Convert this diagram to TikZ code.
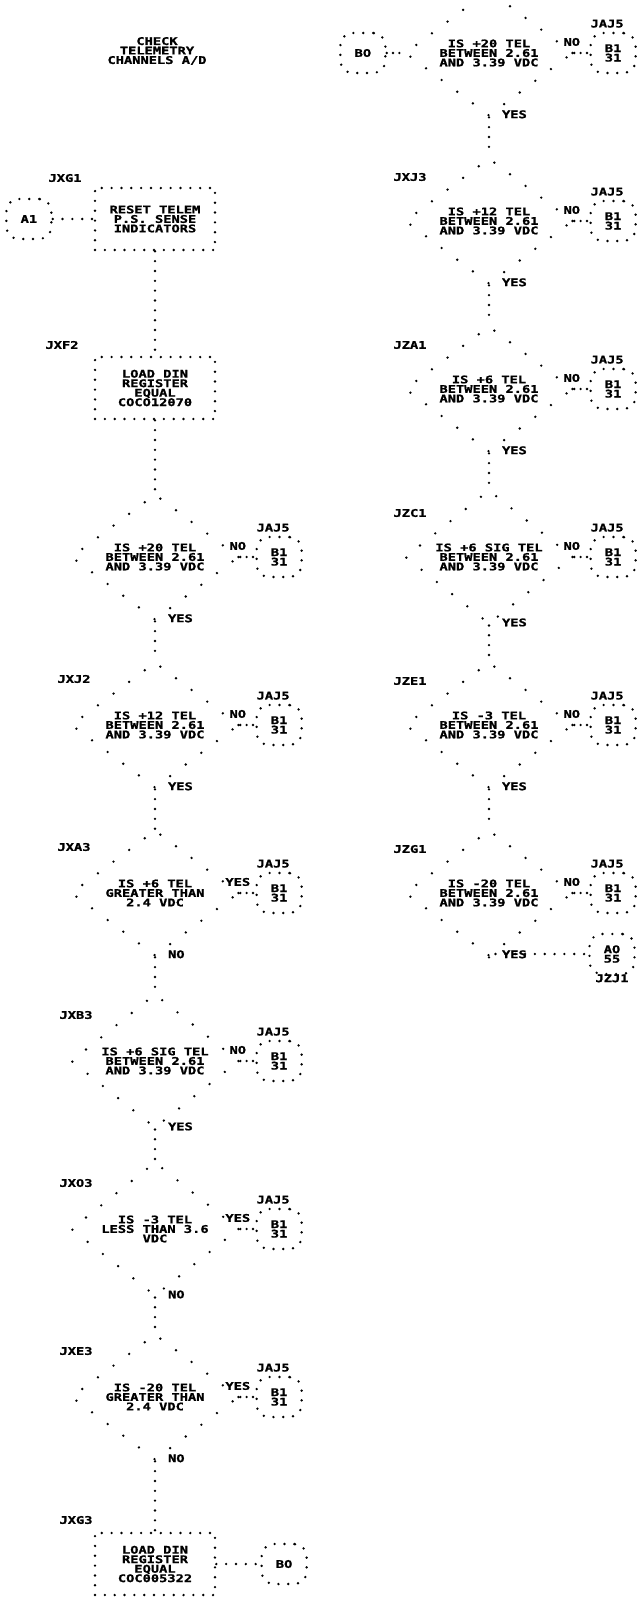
\documentclass[tikz,border=0pt]{standalone}
\usepackage{fontspec}
\newfontfamily\lpf[FakeStretch=1.3, FakeBold=1.2]{DejaVu Sans Mono Bold}
\newcommand{\lp}{\lpf\fontsize{6pt}{5.4pt}\selectfont}
\usetikzlibrary{positioning,shapes.geometric}

\begin{document}
\begin{tikzpicture}[x=0.02cm, y=-0.02cm,
  every node/.style={font=\lp, align=center, inner sep=1pt},
  dotline/.style={line width=1.5pt, line cap=round, dash pattern=on 0pt off 5.6pt},
  dotshort/.style={line width=1.5pt, line cap=round, dash pattern=on 0pt off 3.6pt},
  dotdiag/.style={line width=1.5pt, line cap=round, dash pattern=on 0pt off 11.1pt},
  procbox/.style={draw, dotline, minimum width=2.4cm, minimum height=1.24cm},
  decision/.style={diamond, draw, dotdiag, minimum width=3.36cm, minimum height=2.04cm, inner sep=0pt},
  offpage/.style={draw, dotline, rounded corners=7pt, minimum width=0.9cm, minimum height=0.8cm, inner sep=0pt},
  jlabel/.style={xshift=-0.12cm, yshift=0.04cm},
  branch/.style={anchor=west, xshift=0.2cm, yshift=0.06cm},
  exit/.style={above, xshift=-0.05cm, yshift=0.08cm}]
  \useasboundingbox (0,0) rectangle (640,1613);

  % left column
  \node (title) at (157,51) {CHECK\\TELEMETRY\\CHANNELS A/D};
  \node[procbox] (g1) at (155,219) {RESET TELEM\\P.S. SENSE\\INDICATORS};
  \node (tg1) at (65,178) {JXG1};
  \node[offpage, left=0.82cm of g1] (a1) {A1};
  \node[procbox] (f2) at (155,388) {LOAD DIN\\REGISTER\\EQUAL\\COCO12070};
  \node (tf2) at (62,345) {JXF2};
  \node[decision] (d1) at (155,557) {IS +20 TEL\\BETWEEN 2.61\\AND 3.39 VDC};
  \node[decision] (d2) at (155,725) {IS +12 TEL\\BETWEEN 2.61\\AND 3.39 VDC};
  \node (td2) at (74,679) {JXJ2};
  \node[decision] (d3) at (155,893) {IS +6 TEL\\GREATER THAN\\2.4 VDC};
  \node (td3) at (74,847) {JXA3};
  \node[decision] (d4) at (155,1061) {IS +6 SIG TEL\\BETWEEN 2.61\\AND 3.39 VDC};
  \node (td4) at (76,1015) {JXB3};
  \node[decision] (d5) at (155,1229) {IS -3 TEL\\LESS THAN 3.6\\VDC};
  \node (td5) at (76,1183) {JXO3};
  \node[decision] (d6) at (155,1397) {IS -20 TEL\\GREATER THAN\\2.4 VDC};
  \node (td6) at (76,1351) {JXE3};
  \node[procbox] (g3) at (155,1564) {LOAD DIN\\REGISTER\\EQUAL\\COC005322};
  \node (tg3) at (76,1520) {JXG3};
  \node[offpage, right=0.88cm of g3] (b0) {BO};

  % right column
  \node[decision] (r1) at (489,53) {IS +20 TEL\\BETWEEN 2.61\\AND 3.39 VDC};
  \node[offpage, left=0.34cm of r1] (b0top) {BO};
  \node[decision] (r2) at (489,221) {IS +12 TEL\\BETWEEN 2.61\\AND 3.39 VDC};
  \node (tr2) at (410,177) {JXJ3};
  \node[decision] (r3) at (489,389) {IS +6 TEL\\BETWEEN 2.61\\AND 3.39 VDC};
  \node (tr3) at (410,345) {JZA1};
  \node[decision] (r4) at (489,557) {IS +6 SIG TEL\\BETWEEN 2.61\\AND 3.39 VDC};
  \node (tr4) at (410,513) {JZC1};
  \node[decision] (r5) at (489,725) {IS -3 TEL\\BETWEEN 2.61\\AND 3.39 VDC};
  \node (tr5) at (410,681) {JZE1};
  \node[decision] (r6) at (489,893) {IS -20 TEL\\BETWEEN 2.61\\AND 3.39 VDC};
  \node (tr6) at (410,849) {JZG1};
  \node[offpage, label={[yshift=0.06cm]below:JZJ1}] (zj1) at (612,954) {AO\\55};

  % JAJ5 exits
  \node[offpage, right=0.3cm of d1, label={[jlabel]above:JAJ5}] (jd1) {B1\\31};
  \node[offpage, right=0.3cm of d2, label={[jlabel]above:JAJ5}] (jd2) {B1\\31};
  \node[offpage, right=0.3cm of d3, label={[jlabel]above:JAJ5}] (jd3) {B1\\31};
  \node[offpage, right=0.3cm of d4, label={[jlabel]above:JAJ5}] (jd4) {B1\\31};
  \node[offpage, right=0.3cm of d5, label={[jlabel]above:JAJ5}] (jd5) {B1\\31};
  \node[offpage, right=0.3cm of d6, label={[jlabel]above:JAJ5}] (jd6) {B1\\31};
  \node[offpage, right=0.3cm of r1, label={[jlabel]above:JAJ5}] (jr1) {B1\\31};
  \node[offpage, right=0.3cm of r2, label={[jlabel]above:JAJ5}] (jr2) {B1\\31};
  \node[offpage, right=0.3cm of r3, label={[jlabel]above:JAJ5}] (jr3) {B1\\31};
  \node[offpage, right=0.3cm of r4, label={[jlabel]above:JAJ5}] (jr4) {B1\\31};
  \node[offpage, right=0.3cm of r5, label={[jlabel]above:JAJ5}] (jr5) {B1\\31};
  \node[offpage, right=0.3cm of r6, label={[jlabel]above:JAJ5}] (jr6) {B1\\31};

  % flow, left
  \draw[dotline] (a1) -- (g1);
  \draw[dotline] (g1) -- (f2);
  \draw[dotline] (f2) -- (d1);
  \draw[dotline] (d1) -- node[branch, pos=0] (yd1) {YES} (d2);
  \draw[dotline] (d2) -- node[branch, pos=0] (yd2) {YES} (d3);
  \draw[dotline] (d3) -- node[branch, pos=0] (nd3) {NO} (d4);
  \draw[dotline] (d4) -- node[branch, pos=0] (yd4) {YES} (d5);
  \draw[dotline] (d5) -- node[branch, pos=0] (nd5) {NO} (d6);
  \draw[dotline] (d6) -- node[branch, pos=0] (nd6) {NO} (g3);
  \draw[dotline] (g3) -- (b0);
  \draw[dotshort] (d1) -- node[exit, pos=0] (xd1) {NO} (jd1);
  \draw[dotshort] (d2) -- node[exit, pos=0] (xd2) {NO} (jd2);
  \draw[dotshort] (d3) -- node[exit, pos=0] (xd3) {YES} (jd3);
  \draw[dotshort] (d4) -- node[exit, pos=0] (xd4) {NO} (jd4);
  \draw[dotshort] (d5) -- node[exit, pos=0] (xd5) {YES} (jd5);
  \draw[dotshort] (d6) -- node[exit, pos=0] (xd6) {YES} (jd6);

  % flow, right
  \draw[dotshort] (b0top) -- (r1);
  \draw[dotline] (r1) -- node[branch, pos=0] (yr1) {YES} (r2);
  \draw[dotline] (r2) -- node[branch, pos=0] (yr2) {YES} (r3);
  \draw[dotline] (r3) -- node[branch, pos=0] (yr3) {YES} (r4);
  \draw[dotline] (r4) -- node[branch, pos=0] (yr4) {YES} (r5);
  \draw[dotline] (r5) -- node[branch, pos=0] (yr5) {YES} (r6);
  \draw[dotline] (r6.south) |- node[branch, pos=0] (yr6) {YES} (zj1.west);
  \draw[dotshort] (r1) -- node[exit, pos=0] (xr1) {NO} (jr1);
  \draw[dotshort] (r2) -- node[exit, pos=0] (xr2) {NO} (jr2);
  \draw[dotshort] (r3) -- node[exit, pos=0] (xr3) {NO} (jr3);
  \draw[dotshort] (r4) -- node[exit, pos=0] (xr4) {NO} (jr4);
  \draw[dotshort] (r5) -- node[exit, pos=0] (xr5) {NO} (jr5);
  \draw[dotshort] (r6) -- node[exit, pos=0] (xr6) {NO} (jr6);
\end{tikzpicture}
\end{document}
